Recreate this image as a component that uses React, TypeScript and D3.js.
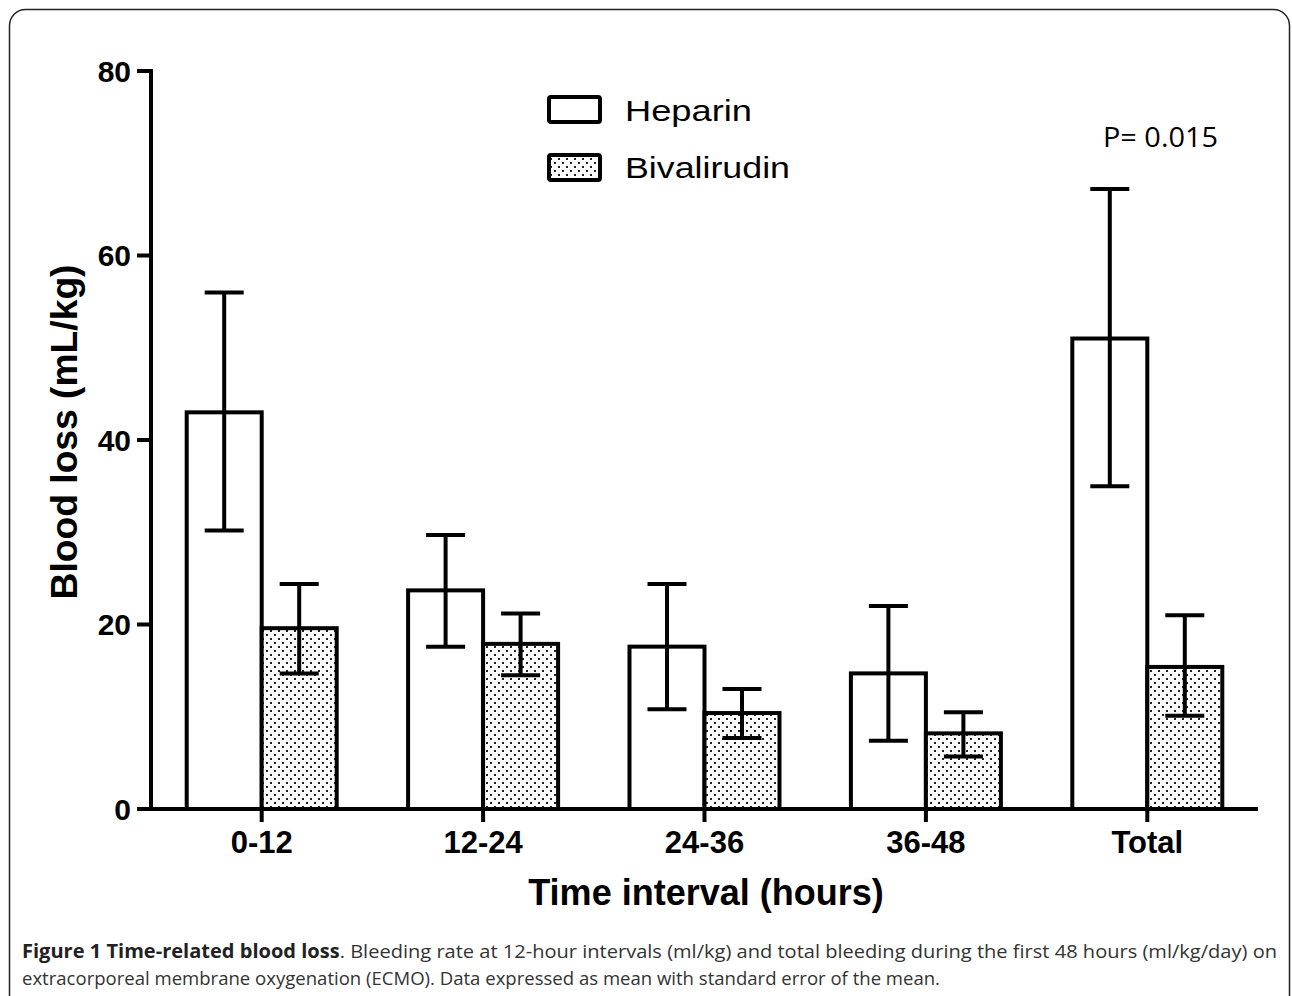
import React from "react";
import * as d3 from "d3";

const categories = ["0-12", "12-24", "24-36", "36-48", "Total"];
const seriesNames = ["Heparin", "Bivalirudin"];
const heparinMean = [43.0, 23.7, 17.6, 14.7, 51.0];
const heparinUpper = [56.0, 29.7, 24.4, 22.0, 67.2];
const heparinLower = [30.2, 17.6, 10.8, 7.4, 35.0];
const bivalMean = [19.6, 17.9, 10.4, 8.2, 15.4];
const bivalUpper = [24.4, 21.2, 13.0, 10.5, 21.0];
const bivalLower = [14.7, 14.5, 7.7, 5.7, 10.1];
const yTicks = [0, 20, 40, 60, 80];

const W = 1292;
const H = 996;
const AX = "'Liberation Sans', Arial, sans-serif";
const CAP = "'Open Sans', 'Noto Sans', sans-serif";

export default function App() {
  const y = d3.scaleLinear().domain([0, 80]).range([809, 71]);
  const x0 = d3
    .scaleBand<string>()
    .domain(categories)
    .range([151, 1258])
    .paddingInner(0.3225)
    .paddingOuter(0.3225 / 2);
  const x1 = d3
    .scaleBand<string>()
    .domain(seriesNames)
    .range([0, x0.bandwidth()]);

  const series = [
    { name: seriesNames[0], mean: heparinMean, up: heparinUpper, lo: heparinLower, fill: "#fff" },
    { name: seriesNames[1], mean: bivalMean, up: bivalUpper, lo: bivalLower, fill: "url(#dots)" },
  ];

  const capHalf = 19.5;
  const sw = 4;

  return (
    <div style={{ position: "absolute", left: 0, top: 0 }}>
      <svg width={W} height={H} viewBox={`0 0 ${W} ${H}`} style={{ display: "block" }}>
        <defs>
          <pattern id="dots" width="8" height="8" patternUnits="userSpaceOnUse">
            <rect width="8" height="8" fill="#fff" />
            <rect x="2" y="2" width="2" height="2" fill="#222" />
            <rect x="6" y="6" width="2" height="2" fill="#222" />
          </pattern>
        </defs>
        <rect x="0" y="0" width={W} height={H} fill="#fff" />
        <rect x="9.5" y="9.5" width="1280" height="1010" rx="16" ry="16" fill="none" stroke="#222" strokeWidth="1.5" />

        {/* bars */}
        {series.map((s) =>
          categories.map((c, i) => {
            const bx = (x0(c) as number) + (x1(s.name) as number);
            const bw = x1.bandwidth();
            const top = y(s.mean[i]);
            return (
              <rect
                key={s.name + c}
                x={bx}
                y={top}
                width={bw}
                height={y(0) - top}
                fill={s.fill}
                stroke="#000"
                strokeWidth={sw}
              />
            );
          })
        )}

        {/* error bars */}
        {series.map((s) =>
          categories.map((c, i) => {
            const cx = (x0(c) as number) + (x1(s.name) as number) + x1.bandwidth() / 2;
            return (
              <g key={"e" + s.name + c} stroke="#000" strokeWidth={sw}>
                <line x1={cx} x2={cx} y1={y(s.up[i])} y2={y(s.lo[i])} />
                <line x1={cx - capHalf} x2={cx + capHalf} y1={y(s.up[i])} y2={y(s.up[i])} />
                <line x1={cx - capHalf} x2={cx + capHalf} y1={y(s.lo[i])} y2={y(s.lo[i])} />
              </g>
            );
          })
        )}

        {/* y axis */}
        <line x1={151} x2={151} y1={y(80) - 2} y2={y(0)} stroke="#000" strokeWidth={sw} />
        {yTicks.map((t) => (
          <g key={"yt" + t}>
            <line x1={137} x2={151} y1={y(t)} y2={y(t)} stroke="#000" strokeWidth={sw} />
            <text
              x={131}
              y={y(t)}
              dy="0.36em"
              textAnchor="end"
              fontFamily={AX}
              fontWeight="bold"
              fontSize={30}
              fill="#000"
            >
              {t}
            </text>
          </g>
        ))}

        {/* x axis */}
        <line x1={137} x2={1258} y1={y(0)} y2={y(0)} stroke="#000" strokeWidth={sw} />
        {categories.map((c) => {
          const cx = (x0(c) as number) + x0.bandwidth() / 2;
          return (
            <g key={"xt" + c}>
              <line x1={cx} x2={cx} y1={y(0)} y2={y(0) + 13} stroke="#000" strokeWidth={sw} />
              <text x={cx} y={853} textAnchor="middle" fontFamily={AX} fontWeight="bold" fontSize={31} fill="#000">
                {c}
              </text>
            </g>
          );
        })}

        {/* axis titles */}
        <text
          x={706}
          y={905}
          textAnchor="middle"
          fontFamily={AX}
          fontWeight="bold"
          fontSize={36}
          fill="#000"
        >
          Time interval (hours)
        </text>
        <text
          transform="translate(77,432) rotate(-90)"
          x={0}
          y={0}
          textAnchor="middle"
          fontFamily={AX}
          fontWeight="bold"
          fontSize={36}
          textLength={335}
          lengthAdjust="spacingAndGlyphs"
          fill="#000"
        >
          Blood loss (mL/kg)
        </text>

        {/* legend */}
        <rect x={549} y={97} width={51} height={25} rx={2} fill="#fff" stroke="#000" strokeWidth={sw} />
        <text x={625} y={121} fontFamily={AX} fontSize={30} textLength={127} lengthAdjust="spacingAndGlyphs" fill="#000">
          Heparin
        </text>
        <rect x={549} y={155} width={51} height={25} rx={2} fill="url(#dots)" stroke="#000" strokeWidth={sw} />
        <text x={625} y={178} fontFamily={AX} fontSize={30} textLength={165} lengthAdjust="spacingAndGlyphs" fill="#000">
          Bivalirudin
        </text>

        {/* p-value */}
        <text x={1103} y={147} fontFamily={CAP} fontSize={28} textLength={115} lengthAdjust="spacingAndGlyphs" fill="#000">
          P= 0.015
        </text>

        {/* caption */}
        <text x={22} y={958} fontFamily={CAP} fontSize={19} textLength={1255} lengthAdjust="spacingAndGlyphs" fill="#333">
          <tspan fontWeight="bold" fill="#222">Figure 1 Time-related blood loss</tspan>
          <tspan>. Bleeding rate at 12-hour intervals (ml/kg) and total bleeding during the first 48 hours (ml/kg/day) on</tspan>
        </text>
        <text x={22} y={985} fontFamily={CAP} fontSize={19} textLength={918} lengthAdjust="spacingAndGlyphs" fill="#333">
          extracorporeal membrane oxygenation (ECMO). Data expressed as mean with standard error of the mean.
        </text>
      </svg>
    </div>
  );
}
